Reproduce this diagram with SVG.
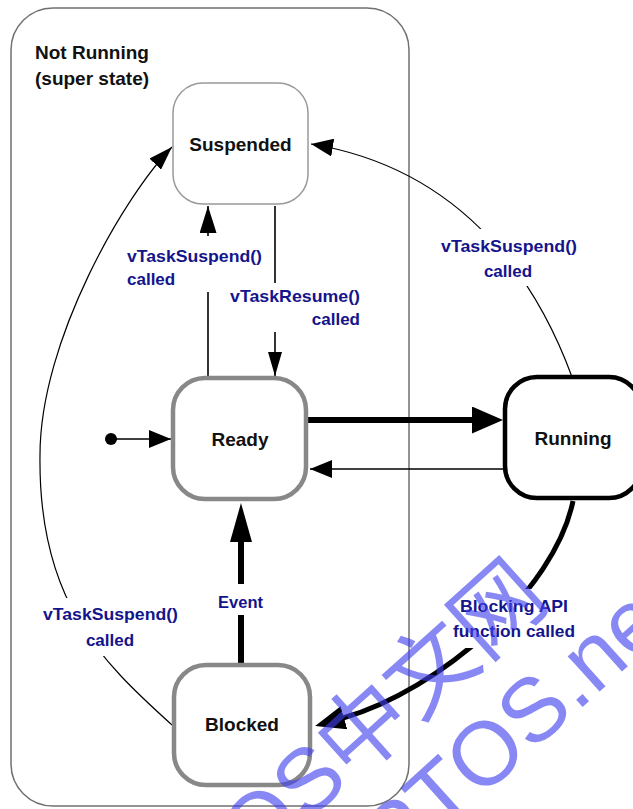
<svg xmlns="http://www.w3.org/2000/svg" width="633" height="809" viewBox="0 0 633 809">
<defs>
<style>
.state rect{fill:#fff}
.name{font-family:"Liberation Sans",Arial,sans-serif;font-weight:bold;font-size:19px;fill:#111;text-anchor:middle}
.title{font-family:"Liberation Sans",Arial,sans-serif;font-weight:bold;font-size:19px;fill:#111}
.lbl{font-family:"Liberation Sans",Arial,sans-serif;font-weight:bold;font-size:17px;fill:#14148c}
.mid{text-anchor:middle}
.end{text-anchor:end}
.bg{fill:#fff}
.thin{fill:none;stroke:#000;stroke-width:1.6}
.arc{fill:none;stroke:#000;stroke-width:1.2}
.thick{fill:none;stroke:#000;stroke-width:6}
.wm{font-family:"Liberation Sans","Noto Sans CJK SC",sans-serif;font-size:90px;fill:#4040f0;opacity:.62;text-anchor:end}
</style>
<marker id="a22" markerUnits="userSpaceOnUse" viewBox="0 0 22 18" markerWidth="22" markerHeight="18" refX="22" refY="9" orient="auto"><path d="M0,0L22,9L0,18z"/></marker>
<marker id="a27" markerUnits="userSpaceOnUse" viewBox="0 0 27 17" markerWidth="27" markerHeight="17" refX="27" refY="8.5" orient="auto"><path d="M0,0L27,8.5L0,17z"/></marker>
<marker id="a24" markerUnits="userSpaceOnUse" viewBox="0 0 24 14" markerWidth="24" markerHeight="14" refX="24" refY="7" orient="auto"><path d="M0,0L24,7L0,14z"/></marker>
<marker id="a24w" markerUnits="userSpaceOnUse" viewBox="0 0 24 16" markerWidth="24" markerHeight="16" refX="24" refY="8" orient="auto"><path d="M0,0L24,8L0,16z"/></marker>
<marker id="t31" markerUnits="userSpaceOnUse" viewBox="0 0 31 27" markerWidth="31" markerHeight="27" refX="1" refY="13.5" orient="auto"><path d="M0,0L31,13.5L0,27z"/></marker>
<marker id="t39" markerUnits="userSpaceOnUse" viewBox="0 0 39 22" markerWidth="39" markerHeight="22" refX="1" refY="11" orient="auto"><path d="M0,0L39,11L0,22z"/></marker>
<marker id="t30" markerUnits="userSpaceOnUse" viewBox="0 0 30 24" markerWidth="30" markerHeight="24" refX="1" refY="12" orient="auto"><path d="M0,0L30,12L0,24z"/></marker>
</defs>
<rect width="633" height="809" fill="#fff"/>

<g id="not-running">
  <rect x="11" y="8" width="398" height="798" rx="42" fill="none" stroke="#707070" stroke-width="1.5"/>
  <text class="title" x="35" y="59">Not Running</text>
  <text class="title" x="35" y="85">(super state)</text>
</g>

<g id="connectors">
  <circle cx="111" cy="439" r="6" fill="#000"/>
  <path class="thin" d="M111,439 H171" marker-end="url(#a22)"/>
  <path class="thin" d="M208,378 V206" marker-end="url(#a27)"/>
  <path class="thin" d="M275,206 V376" marker-end="url(#a24)"/>
  <path class="thin" d="M505,469 H310" marker-end="url(#a22)"/>
  <path class="thick" d="M308,420 H473" marker-end="url(#t31)"/>
  <path class="thick" d="M241,665 V541" marker-end="url(#t39)"/>
  <path class="thick" style="stroke-width:5" d="M573,501 C555,590 440,690 343,718" marker-end="url(#t30)"/>
  <path class="arc" d="M172,725 C100,660 38,600 40,455 C40,340 125,195 172,147" marker-end="url(#a24w)"/>
  <path class="arc" d="M572,377 C540,290 470,170 311,144" marker-end="url(#a22)"/>
</g>

<g id="labels">
  <g id="lbl-suspend-ready">
    <rect class="bg" x="124" y="236" width="142" height="56"/>
    <text class="lbl" x="127" y="262" textLength="135" lengthAdjust="spacingAndGlyphs">vTaskSuspend()</text>
    <text class="lbl" x="127" y="285">called</text>
  </g>
  <g id="lbl-resume">
    <rect class="bg" x="227" y="283" width="136" height="49"/>
    <text class="lbl" x="230" y="302" textLength="130" lengthAdjust="spacingAndGlyphs">vTaskResume()</text>
    <text class="lbl end" x="360" y="325">called</text>
  </g>
  <g id="lbl-suspend-running">
    <rect class="bg" x="438" y="229" width="142" height="57"/>
    <text class="lbl" x="441" y="252" textLength="136" lengthAdjust="spacingAndGlyphs">vTaskSuspend()</text>
    <text class="lbl mid" x="508" y="277">called</text>
  </g>
  <g id="lbl-suspend-blocked">
    <rect class="bg" x="40" y="598" width="142" height="58"/>
    <text class="lbl" x="43" y="620" textLength="135" lengthAdjust="spacingAndGlyphs">vTaskSuspend()</text>
    <text class="lbl mid" x="110" y="646">called</text>
  </g>
  <g id="lbl-event">
    <rect class="bg" x="215" y="584" width="52" height="31"/>
    <text class="lbl" x="218" y="608" textLength="45" lengthAdjust="spacingAndGlyphs">Event</text>
  </g>
  <g id="lbl-blocking">
    <rect class="bg" x="450" y="589" width="130" height="59"/>
    <text class="lbl" x="460" y="612" textLength="108" lengthAdjust="spacingAndGlyphs">Blocking API</text>
    <text class="lbl" x="453" y="637" textLength="122" lengthAdjust="spacingAndGlyphs">function called</text>
  </g>
</g>

<g id="suspended" class="state">
  <rect x="173" y="83" width="135" height="121" rx="30" stroke="#999" stroke-width="1.5"/>
  <text class="name" x="240.5" y="151">Suspended</text>
</g>
<g id="ready" class="state">
  <rect x="173" y="378" width="133" height="121" rx="32" stroke="#888" stroke-width="4.5"/>
  <text class="name" x="240" y="446">Ready</text>
</g>
<g id="running" class="state">
  <rect x="505" y="377" width="136" height="121" rx="32" stroke="#000" stroke-width="4.5"/>
  <text class="name" x="573" y="445">Running</text>
</g>
<g id="blocked" class="state">
  <rect x="174" y="665" width="136" height="120" rx="32" stroke="#888" stroke-width="4.5"/>
  <text class="name" x="242" y="731">Blocked</text>
</g>

<g id="watermark">
  <text class="wm" transform="translate(552,602) rotate(-42)">FreeRTOS中文网</text>
  <text class="wm" transform="translate(688,612) rotate(-42)">FreeRTOS.net</text>
</g>
</svg>
